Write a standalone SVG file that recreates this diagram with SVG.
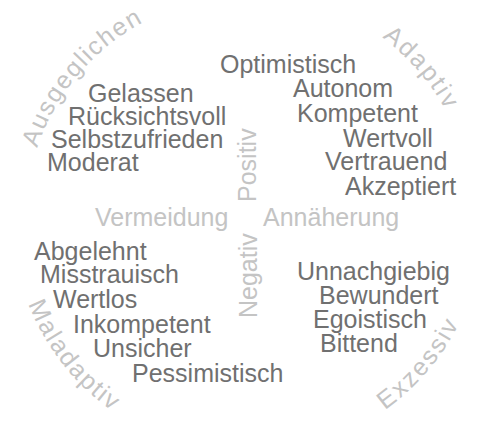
<svg xmlns="http://www.w3.org/2000/svg" width="484" height="436" viewBox="0 0 484 436">
<style>
text{font-family:"Liberation Sans",Arial,Helvetica,sans-serif;font-size:25px}
.w{fill:#707070}
.l{fill:#c4c4c4}
</style>
<defs>
<path id="pAus" d="M37.3,147.9 A222,222 0 0 1 286.5,-0.6"/>
<path id="pAda" d="M382.1,37.4 A225,225 0 0 1 469.6,178.9"/>
<path id="pMal" d="M28.3,304.1 A236,236 0 0 0 207,450.4"/>
<path id="pExz" d="M385,410.1 A236,236 0 0 0 483.1,238.6"/>
</defs>
<rect width="484" height="436" fill="#ffffff"/>
<g id="axes">
<text class="l" x="95" y="226">Vermeidung</text>
<text class="l" x="263" y="226">Annäherung</text>
<text class="l" transform="translate(256,202) rotate(-90)">Positiv</text>
<text class="l" transform="translate(257,318) rotate(-90)">Negativ</text>
</g>
<g id="arcs">
<text class="l" letter-spacing="1.6"><textPath href="#pAus">Ausgeglichen</textPath></text>
<text class="l" letter-spacing="2.2"><textPath href="#pAda">Adaptiv</textPath></text>
<text class="l" letter-spacing="1.8"><textPath href="#pMal">Maladaptiv</textPath></text>
<text class="l" letter-spacing="2.2"><textPath href="#pExz">Exzessiv</textPath></text>
</g>
<g id="quadrant-top-left">
<text class="w" x="88" y="102">Gelassen</text>
<text class="w" x="68" y="125">Rücksichtsvoll</text>
<text class="w" x="51" y="148">Selbstzufrieden</text>
<text class="w" x="47" y="171">Moderat</text>
</g>
<g id="quadrant-top-right">
<text class="w" x="220" y="73">Optimistisch</text>
<text class="w" x="293" y="97">Autonom</text>
<text class="w" x="297" y="122">Kompetent</text>
<text class="w" x="343" y="147">Wertvoll</text>
<text class="w" x="325" y="170">Vertrauend</text>
<text class="w" x="345" y="195">Akzeptiert</text>
</g>
<g id="quadrant-bottom-left">
<text class="w" x="34" y="260">Abgelehnt</text>
<text class="w" x="40" y="283">Misstrauisch</text>
<text class="w" x="53" y="308">Wertlos</text>
<text class="w" x="73" y="333">Inkompetent</text>
<text class="w" x="93" y="357">Unsicher</text>
<text class="w" x="132" y="382">Pessimistisch</text>
</g>
<g id="quadrant-bottom-right">
<text class="w" x="297" y="280">Unnachgiebig</text>
<text class="w" x="319" y="304">Bewundert</text>
<text class="w" x="313" y="328">Egoistisch</text>
<text class="w" x="320" y="352">Bittend</text>
</g>
</svg>
